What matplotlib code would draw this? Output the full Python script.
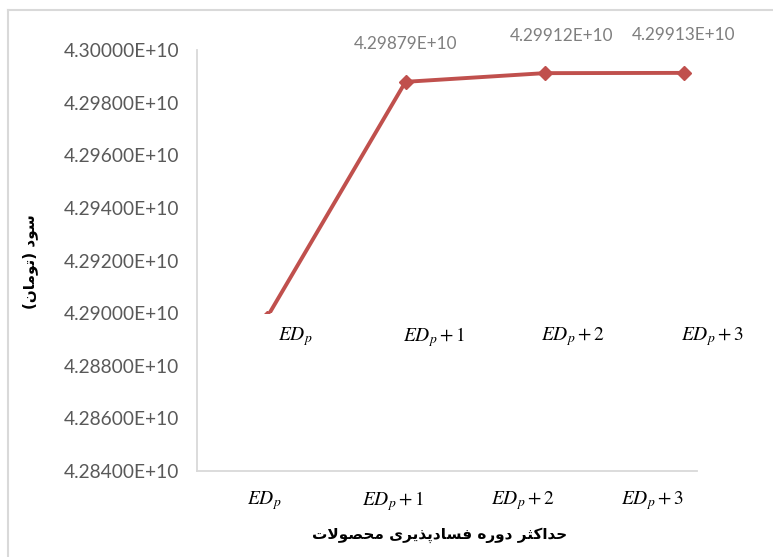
import matplotlib
matplotlib.use("Agg")
import matplotlib.pyplot as plt
from matplotlib.lines import Line2D
from matplotlib.transforms import ScaledTranslation

# ---- data ----
categories = [r"$ED_p$", r"$ED_p+1$", r"$ED_p+2$", r"$ED_p+3$"]
profit = [4.28980e10, 4.29879e10, 4.29912e10, 4.29913e10]
data_labels = ["", "4.29879E+10", "4.29912E+10", "4.29913E+10"]
yticks = [4.284e10, 4.286e10, 4.288e10, 4.290e10, 4.292e10, 4.294e10,
          4.296e10, 4.298e10, 4.300e10]
# Persian titles, pre-shaped (visual order) because matplotlib has no Arabic shaping
ylabel_text = "(\uFEE5\uFE8E\uFEE3\uFEEE\uFE97) \uFEA9\uFEEE\uFEB3"
xlabel_text = ("\uFE95\uFEFB\uFEEE\uFEBC\uFEA4\uFEE3 "
               "\uFBFC\uFEAE\uFBFE\uFEAC\uFB58\uFEA9\uFE8E\uFEB4\uFED3 "
               "\uFEE9\uFEAD\uFEED\uFEA9 "
               "\uFEAE\uFE9C\uFB90\uFE8D\uFEAA\uFEA3")

W, H = 773, 557
fig = plt.figure(figsize=(W / 100, H / 100), dpi=100)
plt.rcParams['mathtext.fontset'] = 'stix'

def rect(l, t, r, b):
    return [l / W, 1 - b / H, (r - l) / W, (b - t) / H]

grey = "#d9d9d9"
line_col = "#C0504D"
cat_size = 14

# outer axes (y scale + bottom category labels)
ax1 = fig.add_axes(rect(197, 50, 697, 471))
ax1.set_ylim(4.284e10, 4.300e10)
ax1.set_yticks(yticks)
ax1.set_yticklabels([f"{v:.5E}" for v in yticks], family="Lato",
                    fontsize=13.8, color="#595959")
ax1.set_xlim(-0.517, 3.34)
ax1.set_xticks(range(len(categories)))
ax1.set_xticklabels(categories, fontsize=cat_size, color="black")
ax1.tick_params(axis="both", length=0)
ax1.tick_params(axis="y", pad=13)
ax1.tick_params(axis="x", pad=13)
for s in ["top", "right"]:
    ax1.spines[s].set_visible(False)
for s in ["left", "bottom"]:
    ax1.spines[s].set_color(grey)
    ax1.spines[s].set_linewidth(1.3)

# inner axes (the line, clipped at 4.29E+10)
ax2 = fig.add_axes(rect(197, 50, 753, 313))
ax2.patch.set_alpha(0)
ax2.set_ylim(4.290e10, 4.300e10)
ax2.set_xlim(-0.5, 3.5)
for s in ax2.spines.values():
    s.set_visible(False)
ax2.set_yticks([])
x = list(range(len(categories)))
ax2.plot(x, profit, color=line_col, lw=2.8, marker="D", ms=7.5,
         markerfacecolor=line_col, markeredgecolor=line_col)
ax2.set_xticks(x)
ax2.set_xticklabels(categories, fontsize=cat_size)
ax2.tick_params(axis="x", length=0, pad=9)
off = ScaledTranslation(0.29, 0, fig.dpi_scale_trans)
for lab in ax2.get_xticklabels():
    lab.set_transform(lab.get_transform() + off)

dx = [0, 0, 12, 0]
for i, (v, t) in enumerate(zip(profit, data_labels)):
    if t:
        ax2.annotate(t, (i, v), xytext=(dx[i], 27), textcoords="offset points",
                     ha="center", va="center", fontsize=12.3, family="Lato",
                     color="#7f7f7f", annotation_clip=False)

fig.text(30 / W, 1 - 262 / H, ylabel_text, rotation=90, ha="center", va="center",
         fontsize=11, fontweight="bold", family=["DejaVu Sans"])
fig.text(440 / W, 1 - 535 / H, xlabel_text, ha="center", va="center",
         fontsize=11, fontweight="bold", family=["DejaVu Sans"])

# chart border
fig.add_artist(Line2D([8 / W, 1], [1 - 10 / H] * 2, color=grey, lw=1.5))
fig.add_artist(Line2D([8 / W] * 2, [1 - 10 / H, 0], color=grey, lw=1.5))

fig.savefig("out.png", dpi=100)
